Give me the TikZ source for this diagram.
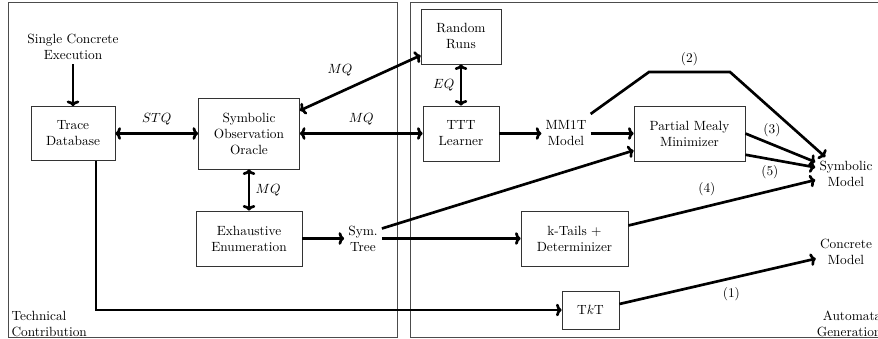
\documentclass[tikz,border=0pt]{standalone}
\usetikzlibrary{arrows.meta}
\begin{document}
\begin{tikzpicture}[x=0.75pt,y=-0.75pt,
  panel/.style={draw=black!70,line width=0.7pt},
  box/.style={draw=black!80,line width=0.6pt,align=center,inner sep=2pt,font=\normalsize},
  txt/.style={align=center,inner sep=3pt,font=\normalsize},
  conn/.style={line width=2pt,-{To[length=4.2pt,width=9.5pt]}},
  bconn/.style={line width=2pt,{To[length=4.2pt,width=9.5pt]}-{To[length=4.2pt,width=9.5pt]}},
  lab/.style={font=\normalsize,inner sep=1pt}]
\useasboundingbox (0,0) rectangle (878,339);
% panels
\draw[panel] (8,2) rectangle (397,337);
\draw[panel] (410,2) rectangle (885,337);
\node[lab,anchor=south west,align=left] (tc) at (10,338) {Technical\\Contribution};
\node[lab,anchor=south east,align=right] (ag) at (883,338) {Automata\\Generation};
% nodes
\node[txt] (sce) at (73,47) {Single Concrete\\Execution};
\node[box,minimum width=63pt,minimum height=40.5pt] (trace) at (73,133.5) {Trace\\Database};
\node[box,minimum width=75.75pt,minimum height=53.25pt] (soo) at (249,133.5) {Symbolic\\Observation\\Oracle};
\node[box,minimum width=79.5pt,minimum height=41.25pt] (exh) at (249,238.5) {Exhaustive\\Enumeration};
\node[txt] (st) at (363,238.5) {Sym.\\Tree};
\node[box,minimum width=60pt,minimum height=41.25pt] (rr) at (461,36.5) {Random\\Runs};
\node[box,minimum width=57pt,minimum height=41.25pt] (ttt) at (461,133.5) {TTT\\Learner};
\node[txt] (mm) at (566,133.5) {MM1T\\Model};
\node[box,minimum width=83.25pt,minimum height=41.25pt] (pmm) at (689.5,133.5) {Partial Mealy\\Minimizer};
\node[box,minimum width=80.25pt,minimum height=41.25pt] (kt) at (574.5,238.5) {k-Tails +\\Determinizer};
\node[box,minimum width=42.75pt,minimum height=28.5pt] (tkt) at (590.5,310) {T$k$T};
\node[txt] (sm) at (846,174) {Symbolic\\Model};
\node[txt] (cm) at (846,252) {Concrete\\Model};
\coordinate (c2a) at (649,72);
\coordinate (c2b) at (730,72);
% connectors
\draw[conn] (sce.south) -- (trace.north);
\draw[bconn] (trace.east) -- node[lab,above=4pt] {$STQ$} (soo.west);
\draw[bconn] (soo.east) -- node[lab,above=4pt] {$MQ$} (ttt.west);
\draw[bconn] ([yshift=17.25pt]soo.east) -- ([yshift=6.75pt]rr.south west);
\node[lab] (mq1) at (340,70) {$MQ$};
\draw[bconn] (soo.south) -- node[lab,right=3pt] {$MQ$} (exh.north);
\draw[bconn] (rr.south) -- node[lab,left=3pt] {$EQ$} (ttt.north);
\draw[conn] (exh.east) -- (st.west);
\draw[conn] (st.east) -- (kt.west);
\draw[conn] ([yshift=7.5pt]st.east) -- ([yshift=-12.75pt]pmm.west);
\draw[conn] ([xshift=17.25pt]trace.south) |- (tkt.west);
\draw[conn] (ttt.east) -- (mm.west);
\draw[conn] (mm.east) -- (pmm.west);
\draw[conn] ([yshift=2pt]mm.north east) -- (c2a) -- node[lab,above=3pt] {(2)} (c2b) -- ([xshift=7.5pt]sm.north west);
\draw[conn] (pmm.east) -- node[lab,pos=0.22,above right=0pt] {(3)} ([yshift=9pt]sm.west);
\draw[conn] ([yshift=5pt]pmm.south east) -- node[lab,pos=0.35,below=3pt] {(5)} ([yshift=5pt]sm.west);
\draw[conn] ([yshift=9.75pt]kt.east) -- node[lab,pos=0.42,above=6pt] {(4)} ([yshift=-4.5pt]sm.west);
\draw[conn] ([yshift=4.5pt]tkt.east) -- node[lab,pos=0.57,below=5pt] {(1)} ([yshift=-5pt]cm.west);
\end{tikzpicture}
\end{document}
